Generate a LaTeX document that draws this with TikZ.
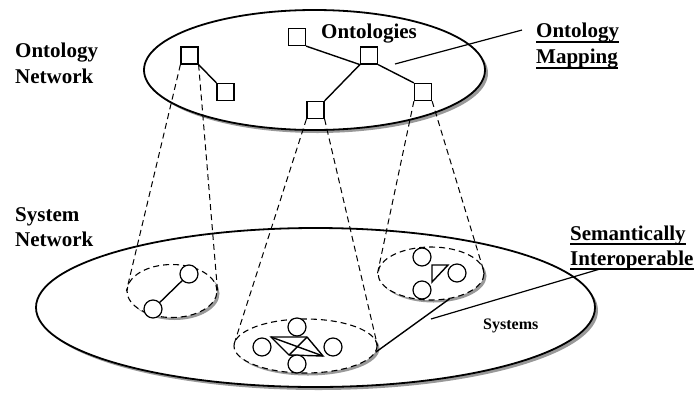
\documentclass[tikz,border=0pt]{standalone}
\usepackage{fontspec}
\setmainfont{Liberation Serif}
\usetikzlibrary{shapes.geometric,shadows}
\begin{document}
\begin{tikzpicture}[x=1pt,y=-1pt,
  bigell/.style={ellipse, draw, line width=1.8pt, fill=white, inner sep=0pt,
    drop shadow={shadow xshift=3pt, shadow yshift=-3pt, fill=black!40, opacity=1}},
  sysell/.style={ellipse, draw, dash pattern=on 6pt off 4pt, line width=1.1pt, fill=white, inner sep=0pt,
    drop shadow={shadow xshift=2.5pt, shadow yshift=-2.5pt, fill=black!40, opacity=1}},
  onto/.style={rectangle, draw, line width=1.2pt, fill=white, minimum size=17pt, inner sep=0pt},
  sys/.style={circle, draw, line width=1.2pt, fill=white, minimum size=18pt, inner sep=0pt},
  cone/.style={dash pattern=on 6pt off 4pt, line width=1pt},
  tree/.style={line width=1.4pt},
  leader/.style={line width=1.2pt},
  lbl/.style={font=\bfseries\fontsize{21}{26}\selectfont, inner sep=0pt, anchor=base west},
  uline/.style={line width=1.8pt},
]
\useasboundingbox (0,0) rectangle (696,397);

% big ellipses
\node[bigell, minimum width=559pt, minimum height=159pt] (SNet) at (315.5,307.5) {};
\node[bigell, minimum width=341pt, minimum height=120pt] (ONet) at (314.5,70) {};

% system ellipses
\node[sysell, minimum width=90pt, minimum height=53pt] (L) at (172,291) {};
\node[sysell, minimum width=143pt, minimum height=54pt] (M) at (305.5,346) {};
\node[sysell, minimum width=106pt, minimum height=53pt] (R) at (431,273.5) {};

% ontology squares
\node[onto] (A) at (189.5,55.5) {};
\node[onto] (B) at (225.5,92) {};
\node[onto] (C) at (297,37) {};
\node[onto] (D) at (369,55.5) {};
\node[onto] (E) at (315.5,110) {};
\node[onto] (F) at (423,92) {};

% cones
\draw[cone] (A.south west) -- (L.west);
\draw[cone] (A.south east) -- (L.east);
\draw[cone] (E.south west) -- (M.west);
\draw[cone] (E.south east) -- (M.east);
\draw[cone] (F.south west) -- (R.west);
\draw[cone] (F.south east) -- (R.east);

% ontology tree lines
\draw[tree] (A.south east) -- (B.north west);
\draw[tree] (C.south east) -- (D.south west);
\draw[tree] (D.south west) -- (E.north east);
\draw[tree] (D.south east) -- (F.north west);

% left system
\node[sys] (L1) at (189,274) {};
\node[sys] (L2) at (153,309) {};
\draw[tree] (L1) -- (L2);

% middle system
\coordinate (k1) at (271,337);
\coordinate (k2) at (307,337);
\coordinate (k3) at (289,355);
\coordinate (k4) at (323,356);
\draw[tree] (k1) -- (k2) -- (k4) -- (k3) -- cycle;
\draw[tree] (k1) -- (k4);
\draw[tree] (k2) -- (k3);
\node[sys] (Mt) at (297,327) {};
\node[sys] (Ml) at (262,347) {};
\node[sys] (Mr) at (333,347) {};
\node[sys] (Mb) at (297,364) {};

% right system
\coordinate (t1) at (432,265);
\coordinate (t2) at (448,265);
\coordinate (t3) at (432,282);
\draw[tree] (t1) -- (t2) -- (t3) -- cycle;
\node[sys] (Rt) at (422,257) {};
\node[sys] (Rb) at (422,290) {};
\node[sys] (Rr) at (457,273) {};

% interoperability link
\draw[tree] (R.-54) -- (M.-5);

% labels
\node[lbl] (ON1) at (15,57) {Ontology};
\node[lbl] (ON2) at (15,83) {Network};
\node[lbl] (SN1) at (15,221) {System};
\node[lbl] (SN2) at (15,246) {Network};
\node[lbl] (OT) at (321,38) {Ontologies};
\node[lbl] (OM1) at (536,37) {Ontology};
\node[lbl] (OM2) at (536,63) {Mapping};
\node[lbl] (SI1) at (570,240) {Semantically};
\node[lbl] (SI2) at (570,265) {Interoperable};
\node[lbl, font=\bfseries\fontsize{16}{19}\selectfont] (SY) at (483,329) {Systems};

% underlines
\draw[uline] ([yshift=-5pt]OM1.base west) -- ([yshift=-5pt]OM1.base east);
\draw[uline] ([yshift=-5pt]OM2.base west) -- ([yshift=-5pt]OM2.base east);
\draw[uline] ([yshift=-4pt]SI1.base west) -- ([yshift=-4pt]SI1.base east);
\draw[uline] ([yshift=-4pt]SI2.base west) -- ([yshift=-4pt]SI2.base east);

% leaders
\coordinate (maptip) at (395,64);
\draw[leader] (maptip) -- ([xshift=-14pt,yshift=2pt]OM1.west);
\coordinate (semtip) at (431,319);
\draw[leader] ([xshift=30pt,yshift=-4pt]SI2.base west) -- (semtip);
\end{tikzpicture}
\end{document}
